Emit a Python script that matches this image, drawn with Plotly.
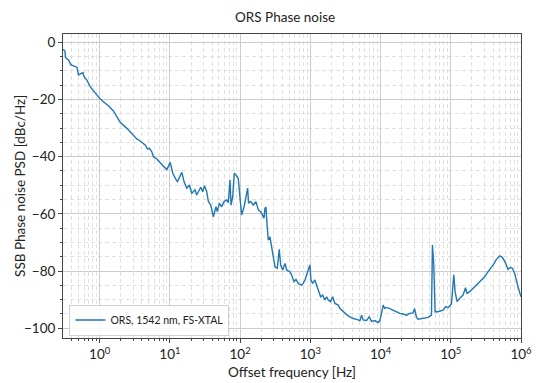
import plotly.graph_objects as go

# Offset frequency [Hz] and SSB phase noise [dBc/Hz]
freq_hz = [
    0.30, 0.32, 0.327, 0.36, 0.39, 0.434, 0.474, 0.50, 0.54, 0.577, 0.60, 0.657, 0.733, 0.816, 0.912,
    1.0, 1.13, 1.33, 1.57, 1.76, 1.96, 2.44, 2.87, 3.38, 3.77, 4.44, 4.79, 5.11, 5.53, 5.83, 6.51, 7.26,
    9.04, 10.1, 11.0, 12.3, 12.8, 14.8, 15.9, 17.4, 18.9, 20.5, 22.8, 24.1, 25.4, 27.5, 29.4, 31.0,
    33.5, 35.3, 38.2, 41.6, 45.4, 47.4, 50.6, 54.7, 59.0, 64.4, 67.9, 71.8, 74.3, 78.5, 82.6, 87.4,
    94.2, 99.7, 105, 114, 121, 128, 132, 141, 154, 168, 182, 196, 210, 214, 219, 226, 234, 239, 244,
    252, 266, 282, 297, 314, 338, 361, 378, 404, 436, 460, 513, 542, 585, 624, 673, 752, 793, 838,
    885, 933, 987, 1020, 1080, 1160, 1230, 1295, 1400, 1500, 1610, 1705, 1800, 1945, 2075, 2240,
    2495, 2640, 2940, 3350, 3660, 4070, 4560, 5080, 5370, 5650, 6320, 6880, 7450, 8300, 9250,
    9770, 10330, 10900, 11500, 12160, 13550, 15100, 16900, 18800, 20960, 23400, 26100, 29100,
    30500, 32500, 34300, 40400, 47600, 53100, 54800, 57200, 59800, 65900, 77600, 84900, 91600,
    102300, 110400, 115200, 123000, 134300, 149700, 161900, 170600, 186300, 219300, 258300,
    304300, 339500, 399900, 446800, 497800, 543300, 605300, 653100, 706300, 754800, 813000,
    905700, 1000000,
]
phase_noise_dbc = [
    -2.5, -3.0, -5.4, -6.2, -7.9, -8.5, -8.7, -11.4, -10.8, -10.6, -12.0, -13.2, -15.5, -17.0, -18.4,
    -19.6, -20.8, -22.2, -24.0, -26.0, -28.0, -30.1, -31.8, -33.8, -34.5, -35.9, -37.3, -37.1, -38.3, -40.0, -40.8, -42.1,
    -44.6, -42.0, -45.8, -48.1, -48.7, -45.5, -48.7, -51.0, -49.9, -52.8, -51.6, -53.4, -52.2, -50.7, -52.2, -50.2,
    -52.2, -55.7, -56.9, -61.0, -57.5, -59.2, -56.3, -57.5, -55.7, -55.1, -56.1, -48.1, -56.9, -54.0, -45.8, -46.4,
    -47.6, -54.0, -60.4, -57.5, -54.0, -51.0, -56.3, -55.7, -56.9, -55.7, -58.6, -59.2, -60.6, -61.0, -61.5, -58.0, -57.7, -62.0, -64.1,
    -69.2, -68.0, -72.7, -75.0, -78.5, -79.0, -72.4, -77.9, -79.6, -77.3, -79.6, -80.2, -81.4, -83.7, -82.9, -84.3, -84.9, -84.3, -83.1,
    -81.4, -80.2, -77.9, -83.1, -84.3, -83.1, -84.9, -86.0, -89.0, -88.4, -90.1, -89.0, -90.1, -90.7, -89.0, -91.3,
    -91.9, -93.1, -94.2, -95.4, -96.0, -96.6, -96.9, -97.3, -95.4, -97.1, -97.3, -96.0, -97.6, -97.3, -98.0,
    -97.3, -94.8, -91.9, -93.1, -92.7, -93.1, -93.7, -94.2, -94.8, -95.0, -95.4, -94.8, -94.6,
    -93.1, -96.2, -96.8, -96.6, -96.2, -95.4, -70.9, -77.6, -94.2, -94.2, -93.7, -92.4, -92.8,
    -91.5, -81.3, -87.2, -90.7, -89.5, -88.4, -85.8, -87.8, -87.2, -85.5, -83.7,
    -82.0, -80.2, -77.9, -75.9, -74.7, -75.2, -77.3, -79.4, -78.7, -79.0, -80.8,
    -85.5, -89.0,
]

series_name = "ORS, 1542 nm, FS-XTAL"
x_tick_vals = [1, 10, 100, 1000, 10000, 100000, 1000000]
x_tick_text = ["10<sup>0</sup>", "10<sup>1</sup>", "10<sup>2</sup>", "10<sup>3</sup>",
               "10<sup>4</sup>", "10<sup>5</sup>", "10<sup>6</sup>"]
y_tick_vals = [0, -20, -40, -60, -80, -100]
y_tick_text = ["0", "\u221220", "\u221240", "\u221260", "\u221280", "\u2212100"]

x_minor = [m * 10 ** e for e in range(-1, 6) for m in range(2, 10)]
y_minor = [v for v in range(-105, 5, 5) if v % 20 != 0]

font_family = "Lato, Open Sans, sans-serif"

fig = go.Figure()
fig.add_trace(go.Scatter(
    x=freq_hz, y=phase_noise_dbc, mode="lines", name=series_name,
    line=dict(color="#1f77b4", width=1.4),
))

fig.update_layout(
    width=536, height=383,
    margin=dict(l=63, r=15, t=34, b=45, autoexpand=False),
    paper_bgcolor="white", plot_bgcolor="white",
    font=dict(family=font_family, size=13.5, color="#222"),
    title=dict(text="ORS Phase noise", x=0.532, xanchor="center", y=0.955, yanchor="middle",
               font=dict(size=13.5, color="#222")),
    showlegend=True,
    legend=dict(x=0.014, y=0.008, xanchor="left", yanchor="bottom",
                bordercolor="#d0d0d0", borderwidth=1, bgcolor="rgba(255,255,255,0.85)",
                font=dict(size=10.5, color="#222"), itemwidth=30),
    annotations=[dict(
        text="SSB Phase noise PSD [dBc/Hz]", textangle=-90,
        xref="paper", yref="paper", x=-0.094, y=0.5, xanchor="center", yanchor="middle",
        showarrow=False, font=dict(size=13.5, color="#222"),
    )],
)

fig.update_xaxes(
    type="log", range=[-0.522, 6.0], automargin=False,
    tickvals=x_tick_vals, ticktext=x_tick_text, tickfont=dict(size=13.5),
    ticklabeloverflow="allow",
    ticks="outside", ticklen=4, tickcolor="#444",
    showline=True, linecolor="#444", linewidth=1, mirror=True,
    showgrid=True, gridcolor="#cccccc", gridwidth=1, zeroline=False,
    minor=dict(tickvals=x_minor, ticks="outside", ticklen=2, tickcolor="#444",
               showgrid=True, gridcolor="#e0e0e0", griddash="4px,3px", gridwidth=1),
    title=dict(text="Offset frequency [Hz]", font=dict(size=13.5), standoff=6),
)
fig.update_yaxes(
    range=[-103.4, 2.9], automargin=False,
    tickvals=y_tick_vals, ticktext=y_tick_text, tickfont=dict(size=13.5),
    ticks="outside", ticklen=4, tickcolor="#444",
    showline=True, linecolor="#444", linewidth=1, mirror=True,
    showgrid=True, gridcolor="#cccccc", gridwidth=1, zeroline=False,
    minor=dict(tickvals=y_minor, ticks="outside", ticklen=2, tickcolor="#444",
               showgrid=True, gridcolor="#e0e0e0", griddash="4px,3px", gridwidth=1),
)

fig.write_html(
    "out.html",
    config={"displayModeBar": False},
    post_script="document.body.style.margin='0';document.body.style.overflow='hidden';",
)
